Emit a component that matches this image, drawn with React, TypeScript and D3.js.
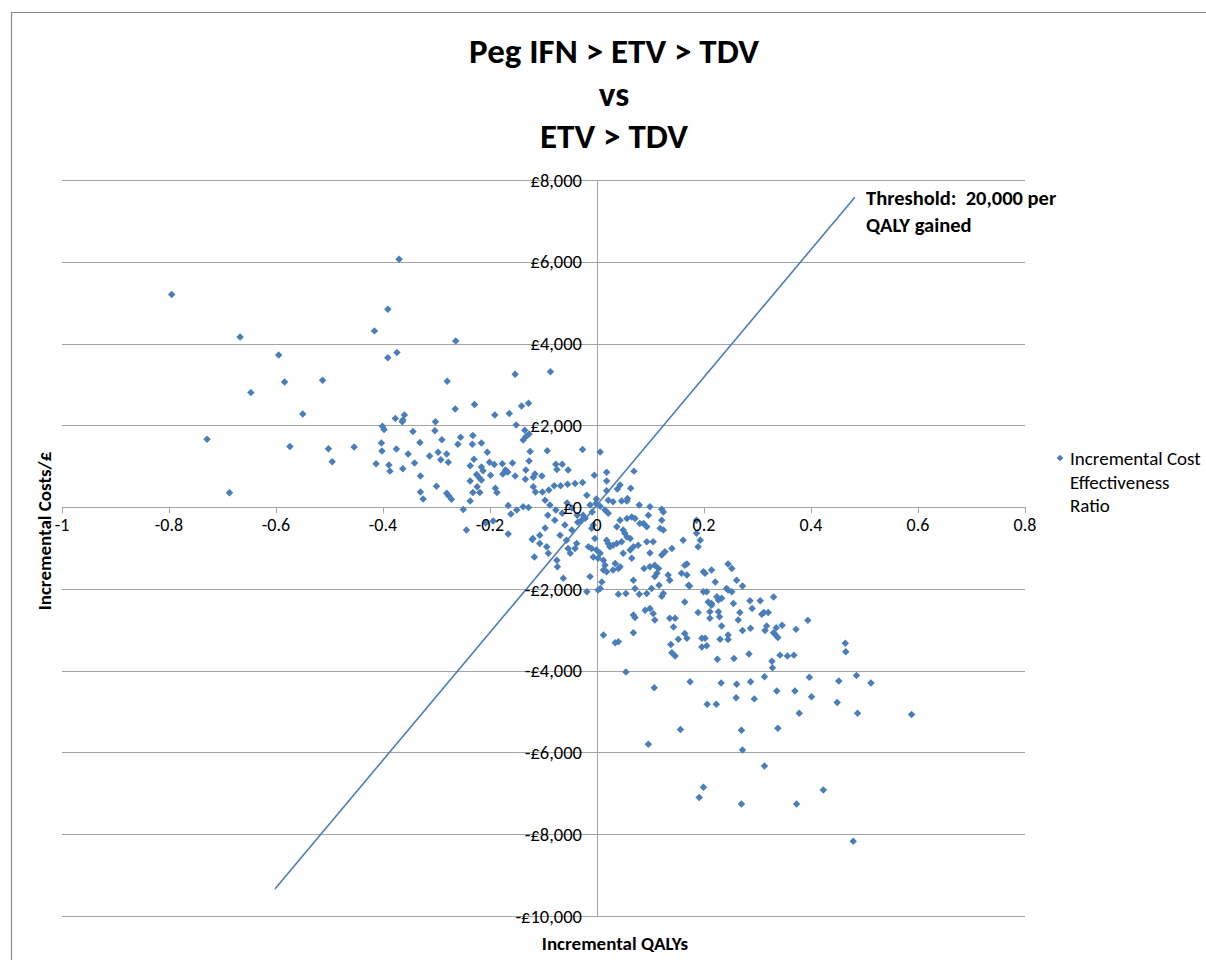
import React from 'react';
import * as d3 from 'd3';

// ---------- text ----------
const TITLE_LINES = ['Peg IFN > ETV > TDV', 'vs', 'ETV > TDV'];
const X_AXIS_TITLE = 'Incremental QALYs';
const Y_AXIS_TITLE = 'Incremental Costs/£';
const LEGEND_LINES = ['Incremental Cost', 'Effectiveness', 'Ratio'];
const THRESHOLD_LABEL = ['Threshold:  20,000 per', 'QALY gained'];

// ---------- axes ----------
const X_DOMAIN: [number, number] = [-1, 0.8];
const Y_DOMAIN: [number, number] = [-10000, 8000];
const X_TICKS = [-1, -0.8, -0.6, -0.4, -0.2, 0, 0.2, 0.4, 0.6, 0.8];
const Y_TICKS = [-10000, -8000, -6000, -4000, -2000, 0, 2000, 4000, 6000, 8000];

// ---------- threshold line (QALY, £) ----------
const THRESHOLD_LINE: [number, number][] = [[-0.602, -9340], [0.482, 7580]];

// ---------- ICER scatter (incremental QALY, incremental cost £) ----------
const ICER_FAR_WEST: [number, number][] = [
  [-0.795, 5200], [-0.667, 4160], [-0.595, 3720], [-0.584, 3060], [-0.513, 3100], [-0.647, 2800],
  [-0.55, 2280], [-0.729, 1660], [-0.574, 1480], [-0.502, 1430], [-0.495, 1110], [-0.687, 350],
];

const ICER_NORTH_WEST: [number, number][] = [
  [-0.37, 6060], [-0.391, 4840], [-0.416, 4310], [-0.391, 3650], [-0.374, 3780], [-0.264, 4060],
  [-0.28, 3080], [-0.153, 3250], [-0.087, 3310], [-0.229, 2510], [-0.265, 2400], [-0.141, 2470],
  [-0.128, 2540], [-0.191, 2250], [-0.164, 2290], [-0.151, 2010], [-0.377, 2170], [-0.363, 2130],
  [-0.36, 2250], [-0.364, 2090], [-0.401, 1980], [-0.398, 1900], [-0.302, 2090], [-0.344, 1850],
  [-0.303, 1870], [-0.255, 1710], [-0.29, 1650], [-0.232, 1750], [-0.454, 1470], [-0.403, 1570],
  [-0.402, 1370], [-0.331, 1580], [-0.375, 1420], [-0.353, 1300], [-0.313, 1250], [-0.297, 1340],
  [-0.281, 1300], [-0.26, 1540], [-0.233, 1540], [-0.216, 1570], [-0.205, 1340], [-0.292, 1160],
  [-0.278, 1100], [-0.23, 1170], [-0.201, 1100], [-0.192, 1040], [-0.177, 1060], [-0.158, 1080],
  [-0.125, 1360], [-0.127, 1130], [-0.093, 1380], [-0.413, 1060], [-0.389, 1030], [-0.341, 1080],
  [-0.363, 940], [-0.387, 880], [-0.237, 1010], [-0.216, 980], [-0.213, 890], [-0.171, 910],
  [-0.133, 910], [-0.077, 1050], [-0.065, 1050], [-0.075, 920], [-0.054, 910], [-0.33, 760],
  [-0.225, 800], [-0.22, 720], [-0.216, 660], [-0.237, 640], [-0.199, 780], [-0.176, 810],
  [-0.167, 860], [-0.153, 760], [-0.134, 680], [-0.116, 810], [-0.119, 730], [-0.103, 760],
  [-0.3, 510], [-0.33, 370], [-0.325, 200], [-0.281, 340], [-0.277, 270], [-0.272, 190],
  [-0.224, 500], [-0.19, 460], [-0.187, 360], [-0.232, 360], [-0.219, 360], [-0.237, 150],
  [-0.25, -60], [-0.166, 40], [-0.15, -70], [-0.161, -170], [-0.138, 10], [-0.128, -10],
  [-0.119, 500], [-0.115, 370], [-0.102, 370], [-0.09, 420], [-0.08, 520], [-0.068, 520],
  [-0.055, 560], [-0.041, 580], [-0.244, -560], [-0.208, -390], [-0.194, -340], [-0.166, -660],
  [-0.12, -770], [-0.135, 1880], [-0.133, 1720], [-0.138, 1640], [-0.127, 1790],
];

const ICER_CORE_WEST: [number, number][] = [
  [-0.097, 170], [-0.088, 50], [-0.077, -70], [-0.065, -150], [-0.056, 100], [-0.047, -20],
  [-0.037, -200], [-0.092, -200], [-0.079, -320], [-0.06, -440], [-0.047, -560], [-0.036, -370],
  [-0.069, -690], [-0.097, -510], [-0.107, -690], [-0.121, -790], [-0.117, -1220], [-0.107, -890],
  [-0.094, -970], [-0.091, -1130], [-0.075, -1300], [-0.074, -1460], [-0.063, -1740], [-0.057, -810],
  [-0.054, -1010], [-0.05, -1130], [-0.038, -890], [-0.041, -1010],
];

const ICER_CORE_NORTH: [number, number][] = [
  [-0.027, 1410], [0.006, 1350], [-0.005, 780], [0.018, 850], [0.018, 640], [0.069, 880],
  [0.043, 540], [0.038, 440], [0.063, 460], [0.018, 400], [-0.027, 600], [-0.019, 290],
  [-0.001, 200], [-0.002, 90], [0.006, 20], [0.03, 130], [0.046, 150], [0.057, 210],
  [0.056, 150], [0.079, 50], [0.099, 10], [0.121, -50], [0.021, 170], [-0.026, -200],
  [-0.022, -270], [-0.029, -320], [-0.016, -970], [-0.019, -2070], [-0.01, -520], [-0.007, -440],
  [-0.004, -770], [-0.013, 50], [-0.009, -120], [-0.013, -1700],
];

const ICER_CORE_SOUTH: [number, number][] = [
  [0.015, -70], [0.021, -150], [0.043, -320], [0.056, -280], [0.065, -240], [0.071, -280],
  [0.037, -480], [0.049, -560], [0.052, -640], [0.056, -730], [0.062, -770], [0.018, -810],
  [0.021, -890], [0.024, -970], [0.03, -930], [0.037, -890], [0.046, -850], [-0.01, -1010],
  [-0.001, -1050], [0.006, -1130], [0.002, -1250], [0.012, -1300], [0.015, -1420], [0.012, -1540],
  [0.018, -1580], [0.03, -1540], [0.04, -1500], [0.043, -1460], [0.049, -1130], [0.062, -1050],
  [0.065, -1250], [0.068, -970], [0.077, -930], [0.006, -1990], [0.002, -2030], [0.04, -2130],
  [0.054, -2110], [0.079, -2130], [0.071, -1990], [0.012, -3130], [0.068, -3070], [0.068, -2640],
  [0.071, -2700], [0.068, -1790], [-0.007, -1220], [0.009, -1830], [0.034, -1380],
  [0.08, -400], [0.087, -400], [0.096, -200], [0.121, -320], [0.124, -560], [0.118, -520],
  [0.124, -120], [0.186, -320], [0.093, -480], [0.186, -640],
  [0.093, -850], [0.105, -850], [0.161, -810], [0.193, -810], [0.189, -970], [0.099, -1120],
  [0.121, -1170], [0.127, -1090], [0.14, -1010], [0.088, -1500], [0.099, -1460], [0.108, -1420],
  [0.115, -1500], [0.112, -1620], [0.108, -1700], [0.133, -1660], [0.136, -1790], [0.158, -1620],
  [0.168, -1660], [0.164, -1420], [0.168, -1390], [0.199, -1580], [0.202, -1620], [0.214, -1540],
  [0.245, -1390], [0.252, -1500], [0.261, -1790], [0.221, -1830], [0.171, -1910], [0.116, -1910],
  [0.102, -1990], [0.199, -2070], [0.205, -2070], [0.242, -1990], [0.245, -2030], [0.252, -2070],
  [0.093, -2110], [0.124, -2110], [0.121, -2180], [0.224, -2190], [0.227, -2270], [0.233, -2230],
  [0.255, -2360], [0.214, -2360], [0.208, -2320], [0.214, -2400], [0.211, -2560], [0.211, -2720],
  [0.227, -2560], [0.229, -2680], [0.189, -2580], [0.09, -2520], [0.099, -2480], [0.105, -2600],
  [0.108, -2760], [0.146, -2720], [0.136, -2720], [0.264, -2760], [0.233, -2910], [0.143, -2930],
  [0.164, -3090], [0.168, -3210], [0.152, -3230], [0.196, -3210], [0.202, -3210], [0.23, -3230],
  [0.245, -3130], [0.245, -3240], [0.164, -2320], [0.173, -1930],
];

const ICER_SOUTH_EAST: [number, number][] = [
  [0.272, -1930], [0.286, -2290], [0.305, -2290], [0.29, -2480], [0.33, -2200], [0.267, -2580],
  [0.308, -2620], [0.312, -2580], [0.32, -2580], [0.272, -3020], [0.287, -2960], [0.314, -3020],
  [0.317, -2910], [0.33, -3070], [0.335, -2950], [0.333, -3110], [0.338, -3190], [0.346, -2890],
  [0.372, -2990], [0.394, -2770],
  [0.034, -3320], [0.04, -3290], [0.054, -4030], [0.107, -4420], [0.096, -5800], [0.138, -3360],
  [0.14, -3560], [0.146, -3640], [0.174, -4270], [0.156, -5440], [0.196, -3420], [0.205, -3390],
  [0.225, -3720], [0.256, -3700], [0.284, -3590], [0.327, -3770], [0.328, -3930], [0.342, -3620],
  [0.356, -3640], [0.368, -3620], [0.313, -4150], [0.397, -4160], [0.452, -4250], [0.485, -4120],
  [0.512, -4300], [0.464, -3330], [0.465, -3540], [0.232, -4300], [0.261, -4330], [0.287, -4270],
  [0.26, -4660], [0.294, -4690], [0.206, -4820], [0.223, -4820], [0.336, -4500], [0.37, -4500],
  [0.401, -4640], [0.449, -4780], [0.378, -5040], [0.487, -5040], [0.588, -5070], [0.27, -5460],
  [0.338, -5410], [0.272, -5940], [0.313, -6330], [0.199, -6850], [0.191, -7100], [0.27, -7260],
  [0.373, -7260], [0.423, -6920], [0.479, -8170],
];

const ICER_GROUPS = [ICER_FAR_WEST, ICER_NORTH_WEST, ICER_CORE_WEST, ICER_CORE_NORTH, ICER_CORE_SOUTH, ICER_SOUTH_EAST];

// ---------- styling ----------
const W = 1206;
const H = 960;
const PLOT = { left: 62, right: 1025, top: 180, bottom: 916 };
const BLUE = '#4a7ebb';
const GRID = '#a3a3a3';
const FONT = "Carlito, Calibri, Lato, 'Open Sans', sans-serif";

const squareDiamond = {
  draw(ctx: any, size: number) {
    const r = Math.sqrt(size / 2);
    ctx.moveTo(0, -r);
    ctx.lineTo(r, 0);
    ctx.lineTo(0, r);
    ctx.lineTo(-r, 0);
    ctx.closePath();
  },
};

const fmtY = (v: number) => (v < 0 ? '-' : '') + '£' + d3.format(',')(Math.abs(v));
const fmtX = (v: number) => String(v);

export default function App() {
  const x = d3.scaleLinear().domain(X_DOMAIN).range([PLOT.left, PLOT.right]);
  const y = d3.scaleLinear().domain(Y_DOMAIN).range([PLOT.bottom, PLOT.top]);
  const marker = d3.symbol().type(squareDiamond as any).size(28)() as string;
  const legendMarker = d3.symbol().type(squareDiamond as any).size(22)() as string;
  const thresholdPath = d3
    .line<[number, number]>()
    .x((d) => x(d[0]))
    .y((d) => y(d[1]))(THRESHOLD_LINE) as string;
  const points = ICER_GROUPS.flat();

  return (
    <svg
      width={W}
      height={H}
      style={{ position: 'absolute', left: 0, top: 0, background: '#fff' }}
      fontFamily={FONT}
    >
      <rect x={0} y={0} width={W} height={H} fill="#fff" />
      {/* chart frame */}
      <line x1={11} x2={W} y1={12.5} y2={12.5} stroke="#878787" strokeWidth={1.2} />
      <line x1={11.5} x2={11.5} y1={12} y2={H} stroke="#878787" strokeWidth={1.2} />

      {/* title */}
      {TITLE_LINES.map((t, i) => (
        <text key={t} x={614} y={63 + i * 42.5} textAnchor="middle" fontSize={35} fontWeight="bold" fill="#000">
          {t}
        </text>
      ))}

      {/* horizontal gridlines */}
      {Y_TICKS.map((v) => (
        <line key={v} x1={PLOT.left} x2={PLOT.right} y1={Math.round(y(v)) + 0.5} y2={Math.round(y(v)) + 0.5} stroke={GRID} strokeWidth={1} />
      ))}
      {/* vertical axis at x = 0 */}
      <line x1={Math.round(x(0)) + 0.5} x2={Math.round(x(0)) + 0.5} y1={PLOT.top} y2={PLOT.bottom} stroke={GRID} strokeWidth={1} />
      {/* x-axis tick marks */}
      {X_TICKS.map((v) => (
        <line key={v} x1={Math.round(x(v)) + 0.5} x2={Math.round(x(v)) + 0.5} y1={y(0)} y2={y(0) + 6} stroke={GRID} strokeWidth={1} />
      ))}

      {/* threshold line */}
      <path d={thresholdPath} fill="none" stroke={BLUE} strokeWidth={1.6} />

      {/* scatter */}
      <g fill={BLUE}>
        {points.map((p, i) => (
          <path key={i} d={marker} transform={`translate(${x(p[0])},${y(p[1])})`} />
        ))}
      </g>

      {/* y tick labels */}
      {Y_TICKS.map((v) => (
        <text key={v} x={x(0) - 15} y={y(v)} dy="0.36em" textAnchor="end" fontSize={18.5} fill="#000">
          {fmtY(v)}
        </text>
      ))}
      {/* x tick labels */}
      {X_TICKS.map((v) => (
        <text key={v} x={x(v)} y={y(0) + 24} textAnchor="middle" fontSize={18} fill="#000">
          {fmtX(v)}
        </text>
      ))}

      {/* threshold label */}
      {THRESHOLD_LABEL.map((t, i) => (
        <text key={t} x={866} y={205 + i * 27} fontSize={20.5} fontWeight="bold" fill="#000" xmlSpace="preserve" style={{ whiteSpace: 'pre' }}>
          {t}
        </text>
      ))}

      {/* axis titles */}
      <text x={615} y={950} textAnchor="middle" fontSize={19} fontWeight="bold" fill="#000">
        {X_AXIS_TITLE}
      </text>
      <text transform="translate(51,531) rotate(-90)" textAnchor="middle" fontSize={19} fontWeight="bold" fill="#000">
        {Y_AXIS_TITLE}
      </text>

      {/* legend */}
      <path d={legendMarker} transform="translate(1060,458)" fill={BLUE} />
      {LEGEND_LINES.map((t, i) => (
        <text key={t} x={1070} y={465 + i * 23.5} fontSize={19} fill="#000">
          {t}
        </text>
      ))}
    </svg>
  );
}
